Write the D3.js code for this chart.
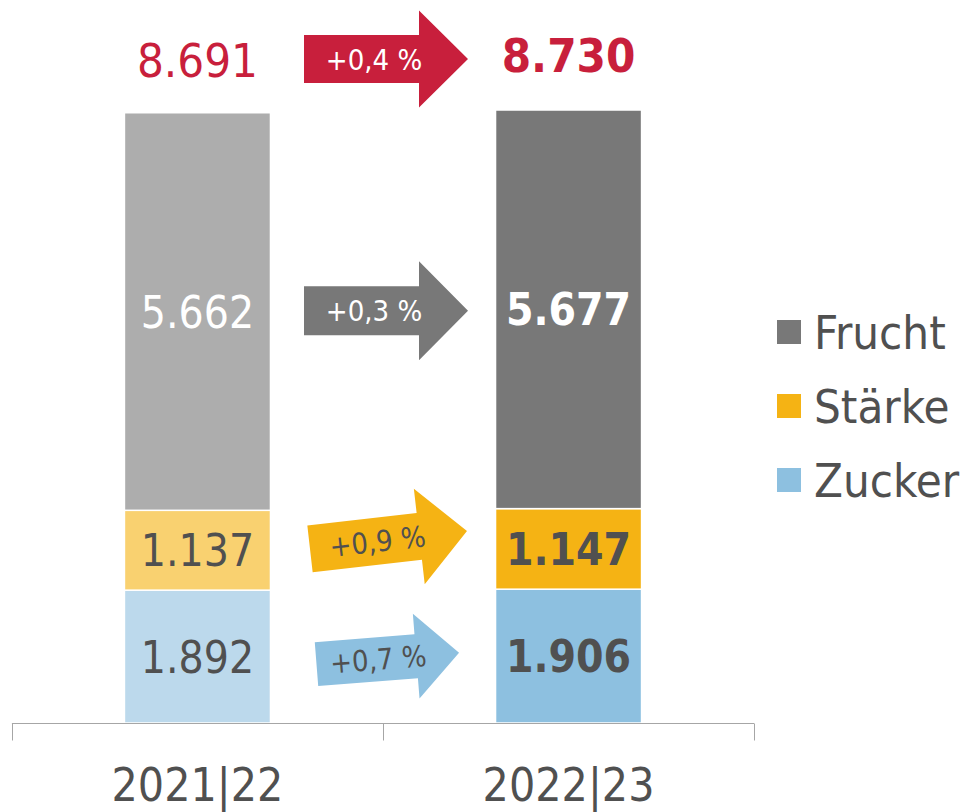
<!DOCTYPE html>
<html>
<head>
<meta charset="utf-8">
<script src="https://cdn.jsdelivr.net/npm/d3@7"></script>
<style>
  html, body { margin: 0; padding: 0; background: #fff; }
  svg { display: block; }
  text { font-family: "DejaVu Sans Condensed", "DejaVu Sans", sans-serif; font-stretch: condensed; }
</style>
</head>
<body>
<svg id="chart" width="962" height="812"></svg>
<script>
// ---- data ----
const years = ["2021|22", "2022|23"];
const seriesKeys = ["Zucker", "Stärke", "Frucht"];
const zucker = [1892, 1906];
const staerke = [1137, 1147];
const frucht = [5662, 5677];
const totals = [8691, 8730];
const changeLabels = ["+0,7 %", "+0,9 %", "+0,3 %"]; // Zucker, Stärke, Frucht
const totalChangeLabel = "+0,4 %";
const legendOrder = ["Frucht", "Stärke", "Zucker"];

// ---- styles ----
const colorsLight = { "Zucker": "#bcd9ec", "Stärke": "#f9d170", "Frucht": "#adadad" };
const colorsDark  = { "Zucker": "#8dc0e0", "Stärke": "#f5b314", "Frucht": "#787878" };
const labelColor = { "Zucker": "#505050", "Stärke": "#505050", "Frucht": "#ffffff" };
const red = "#c81f3c";
const textGrey = "#505050";

const rows = years.map((yr, i) => ({ year: yr, "Zucker": zucker[i], "Stärke": staerke[i], "Frucht": frucht[i] }));
const stacked = d3.stack().keys(seriesKeys)(rows);

const de = d3.formatLocale({ decimal: ",", thousands: ".", grouping: [3], currency: ["", " €"] });
const fmt = de.format(",d");

const svg = d3.select("#chart");

const x = d3.scaleBand().domain(years).range([12, 754]).paddingInner(0.6065).paddingOuter(0.303);
const y = d3.scaleLinear().domain([0, 8730]).range([723, 110]);

// ---- bars ----
const layers = svg.append("g").selectAll("g").data(stacked).join("g");
layers.selectAll("rect")
  .data(d => d.map((p, i) => ({ key: d.key, i, y0: p[0], y1: p[1] })))
  .join("rect")
  .attr("x", d => x(years[d.i]))
  .attr("width", x.bandwidth())
  .attr("y", d => y(d.y1))
  .attr("height", d => y(d.y0) - y(d.y1))
  .attr("fill", d => d.i === 0 ? colorsLight[d.key] : colorsDark[d.key])
  .attr("stroke", "#fff")
  .attr("stroke-width", 1.5);

// segment labels
layers.selectAll("text")
  .data(d => d.map((p, i) => ({ key: d.key, i, y0: p[0], y1: p[1] })))
  .join("text")
  .attr("x", d => x(years[d.i]) + x.bandwidth() / 2)
  .attr("y", d => (y(d.y0) + y(d.y1)) / 2 + 16)
  .attr("text-anchor", "middle")
  .attr("font-size", 44)
  .attr("font-weight", d => d.i === 1 ? "bold" : "normal")
  .attr("fill", d => labelColor[d.key])
  .text(d => fmt(d.y1 - d.y0));

// totals
svg.append("g").selectAll("text").data(totals).join("text")
  .attr("x", (d, i) => x(years[i]) + x.bandwidth() / 2)
  .attr("y", (d, i) => y(d) - (i === 0 ? 36 : 38))
  .attr("text-anchor", "middle")
  .attr("font-size", 47)
  .attr("font-weight", (d, i) => i === 1 ? "bold" : "normal")
  .attr("fill", red)
  .text(d => fmt(d));

// ---- axis ----
const axisG = svg.append("g");
const step = x.step();
const gapHalf = (step - x.bandwidth()) / 2;
const bounds = years.map(yr => x(yr) - gapHalf).concat([x(years[years.length - 1]) + x.bandwidth() + gapHalf]);
const y0px = Math.round(y(0)) + 0.5;
axisG.append("line")
  .attr("x1", bounds[0]).attr("x2", bounds[bounds.length - 1])
  .attr("y1", y0px).attr("y2", y0px)
  .attr("stroke", "#a6a6a6").attr("stroke-width", 1);
axisG.selectAll("line.tick").data(bounds).join("line").attr("class", "tick")
  .attr("x1", d => Math.round(d) + 0.5).attr("x2", d => Math.round(d) + 0.5)
  .attr("y1", y0px).attr("y2", y0px + 17)
  .attr("stroke", "#a6a6a6").attr("stroke-width", 1);
axisG.selectAll("text").data(years).join("text")
  .attr("x", d => x(d) + x.bandwidth() / 2)
  .attr("y", 801)
  .attr("text-anchor", "middle")
  .attr("font-size", 46)
  .attr("fill", textGrey)
  .text(d => d);

// ---- arrows ----
function arrowPath(bl, hl, bh, hh) {
  return `M0,${-bh}L${bl},${-bh}L${bl},${-hh}L${bl + hl},0L${bl},${hh}L${bl},${bh}L0,${bh}Z`;
}
const midOf = (key, i) => {
  const s = stacked.find(l => l.key === key)[i];
  return (y(s[0]) + y(s[1])) / 2;
};
const arrowSpecs = [
  { label: totalChangeLabel, fill: red, txt: "#fff", lx: 304, ly: y(totals[1]) - 51, bl: 115, hl: 49, bh: 24, hh: 48.5, ang: 0, tx: 70 },
  { label: changeLabels[2], fill: colorsDark["Frucht"], txt: "#fff", lx: 304, ly: midOf("Frucht", 1) + 1.5, bl: 115, hl: 49, bh: 24.5, hh: 49.5, ang: 0, tx: 70 },
  { label: changeLabels[1], fill: colorsDark["Stärke"], txt: textGrey, lx: 310, ly: midOf("Stärke", 1), bl: 110, hl: 48, bh: 23.5, hh: 48, ang: -6.5, tx: 68 },
  { label: changeLabels[0], fill: colorsDark["Zucker"], txt: textGrey, lx: 316.5, ly: midOf("Zucker", 1) + 8, bl: 100, hl: 43, bh: 22, hh: 42.5, ang: -4.5, tx: 62 }
];
const arrows = svg.append("g").selectAll("g").data(arrowSpecs).join("g")
  .attr("transform", d => `translate(${d.lx},${d.ly}) rotate(${d.ang})`);
arrows.append("path")
  .attr("d", d => arrowPath(d.bl, d.hl, d.bh, d.hh))
  .attr("fill", d => d.fill);
arrows.append("text")
  .attr("x", d => d.tx)
  .attr("y", 10.5)
  .attr("text-anchor", "middle")
  .attr("font-size", 29)
  .attr("fill", d => d.txt)
  .text(d => d.label);

// ---- legend ----
const legend = svg.append("g").selectAll("g").data(legendOrder).join("g")
  .attr("transform", (d, i) => `translate(777,${332 + i * 74})`);
legend.append("rect")
  .attr("x", 0).attr("y", -12).attr("width", 24).attr("height", 24)
  .attr("fill", d => colorsDark[d]);
legend.append("text")
  .attr("x", 37).attr("y", 17)
  .attr("font-size", 47)
  .attr("fill", textGrey)
  .text(d => d);
</script>
</body>
</html>
